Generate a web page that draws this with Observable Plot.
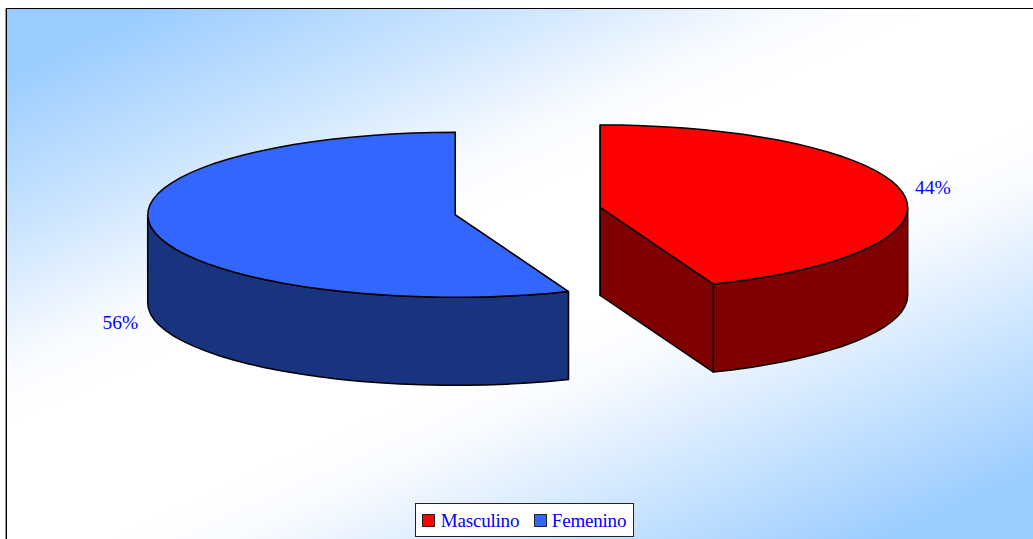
<!DOCTYPE html>
<html>
<head>
<meta charset="utf-8">
<script src="https://cdn.jsdelivr.net/npm/d3@7"></script>
<script src="https://cdn.jsdelivr.net/npm/@observablehq/plot@0.6"></script>
<style>
  html, body { margin: 0; padding: 0; background: #fff; overflow: hidden; }
  #chart { position: relative; width: 1033px; height: 539px; }
  #panel {
    position: absolute; left: 6px; top: 8px; width: 1027px; height: 531px; box-sizing: border-box;
    border-left: 1.5px solid #000; border-top: 1.5px solid #000;
    box-shadow: -1px 0 0 #999;
    background: linear-gradient(155.8deg, #99ccff 6%, #cce5ff 23%, #f8fbff 36%, #ffffff 42%, #ffffff 58%, #f8fbff 64%, #d0e7ff 77%, #99ccff 94%);
  }
  #chart svg { position: absolute; left: 0; top: 0; background: none; }
  #legend {
    position: absolute; left: 415px; top: 503px; width: 219px; height: 34px; box-sizing: border-box;
    background: #fff; border: 1.3px solid #222;
    font: 19px "Liberation Serif", serif; color: #0000ff; letter-spacing: -0.2px;
  }
  #legend span { position: absolute; top: 6px; line-height: 22px; white-space: nowrap; }
  #legend i { position: absolute; top: 10px; width: 13px; height: 13px; box-sizing: border-box; border: 1.3px solid #222; }
</style>
</head>
<body>
<div id="chart"><div id="panel"></div></div>
<script>
// Respondents by sex
const categories = ["Masculino", "Femenino"];
const shares = [44, 56];
const topColors = ["#ff0000", "#3366ff"];
const wallColors = ["#800000", "#19347f"];

// Pie projection, in page pixels
const pie = {cx: 527.2, cy: 210.6, rx: 307.5, ry: 82.5, depth: 88, explode: 73.8};
const rad = d3.scaleLinear().domain([0, 360]).range([0, 2 * Math.PI]);
const total = d3.sum(shares);

// A point on the pie's ellipse; angles run clockwise from twelve o'clock
const project = (o, a, r = 1, drop = 0) => ({
  x: o.x + pie.rx * r * Math.sin(rad(a)),
  y: o.y - pie.ry * r * Math.cos(rad(a)) + drop
});

let start = 0;
const slices = categories.map((name, i) => {
  const a0 = start, a1 = start + (shares[i] / total) * 360;
  start = a1;
  const mid = (a0 + a1) / 2;
  const o = project({x: pie.cx, y: pie.cy}, mid, pie.explode / pie.rx);
  return {name, share: shares[i], a0, a1, mid, o, top: topColors[i], wall: wallColors[i]};
});

// Rims are flattened to short chords, about one every 4 degrees
const arc = (o, a0, a1, drop = 0) => {
  const n = Math.ceil(Math.abs(a1 - a0) / 4);
  return d3.range(n + 1).map((k) => project(o, a0 + ((a1 - a0) * k) / n, 1, drop));
};

const cutWall = (s, a) => {
  const rim = project(s.o, a);
  return [
    {x: s.o.x, y: s.o.y},
    rim,
    {x: rim.x, y: rim.y + pie.depth},
    {x: s.o.x, y: s.o.y + pie.depth}
  ];
};

// Only the part of the outer wall facing the viewer is drawn
const outerWall = (s) => {
  const a0 = Math.max(s.a0, 90), a1 = Math.min(s.a1, 270);
  return [...arc(s.o, a0, a1), ...arc(s.o, a1, a0, pie.depth)];
};

const topFace = (s) => [{x: s.o.x, y: s.o.y}, ...arc(s.o, s.a0, s.a1)];

const face = (points, fill) =>
  Plot.line(points, {x: "x", y: "y", fill, stroke: "#000", strokeWidth: 1.5, curve: "linear-closed", strokeLinejoin: "round"});

// Each label sits just outside its slice, level with the wall when the slice faces front
const labels = slices.map((s) => {
  const drop = Math.cos(rad(s.mid)) < 0 ? pie.depth : 0;
  const p = project(s.o, s.mid, 1.105, drop);
  const q = project(s.o, s.mid, 1.27, drop);
  return {x: p.x - 1, y: q.y, text: `${s.share}%`};
});

const plot = Plot.plot({
  width: 1033,
  height: 539,
  margin: 0,
  x: {domain: [0, 1033], range: [0, 1033], axis: null},
  y: {domain: [0, 539], range: [0, 539], axis: null},
  marks: [
    ...slices.flatMap((s) => [
      face(cutWall(s, s.a0), s.wall),
      face(cutWall(s, s.a1), s.wall),
      face(outerWall(s), s.wall),
      face(topFace(s), s.top)
    ]),
    Plot.text(labels, {x: "x", y: "y", text: "text", fill: "#0000ff", fontFamily: "Liberation Serif", fontSize: 19.5, textAnchor: "middle"})
  ]
});
document.getElementById("chart").appendChild(plot);

// Legend box over the bottom of the panel
const legend = document.createElement("div");
legend.id = "legend";
[[6, 24.8], [118, 135.8]].forEach(([swatchLeft, textLeft], i) => {
  const swatch = document.createElement("i");
  swatch.style.left = swatchLeft + "px";
  swatch.style.background = topColors[i];
  const label = document.createElement("span");
  label.style.left = textLeft + "px";
  label.textContent = categories[i];
  legend.append(swatch, label);
});
document.getElementById("chart").appendChild(legend);
</script>
</body>
</html>
